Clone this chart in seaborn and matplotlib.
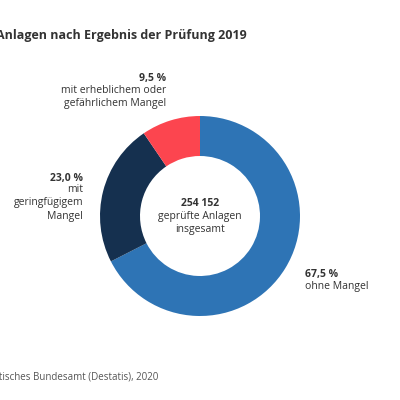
import matplotlib
matplotlib.use("Agg")
import matplotlib.pyplot as plt
import seaborn as sns

sns.set_theme(style="white")
plt.rcParams['font.family'] = ['Open Sans', 'DejaVu Sans']

categories = ["ohne Mangel", "mit geringfügigem Mangel", "mit erheblichem oder gefährlichem Mangel"]
values = [67.5, 23.0, 9.5]
colors = ["#2e74b5", "#15304f", "#fc454f"]
total_label = "254 152"

fig = plt.figure(figsize=(4, 4), dpi=100)
ax = fig.add_axes([0.25, 0.21, 0.5, 0.5])
ax.pie(values, colors=colors, startangle=90, counterclock=False,
       wedgeprops=dict(width=0.4, linewidth=0))
ax.set_xlim(-1, 1); ax.set_ylim(-1, 1); ax.set_aspect('equal')

def px(x, y):
    return x / 400, 1 - y / 400

c = "#333333"
fig.text(*px(247, 35), "Geprüfte Anlagen nach Ergebnis der Prüfung 2019", ha='right', va='center',
         fontsize=9, fontweight='bold', color=c)
fig.text(*px(158, 377), "Quelle: Statistisches Bundesamt (Destatis), 2020", ha='right', va='center',
         fontsize=7, color="#555555")

fig.text(*px(166, 79), "9,5 %", ha='right', va='center', fontsize=7.5, fontweight='bold', color=c)
fig.text(*px(166, 97), "mit erheblichem oder\ngefährlichem Mangel", ha='right', va='center',
         fontsize=7.5, color=c, linespacing=1.3)
fig.text(*px(83, 179), "23,0 %", ha='right', va='center', fontsize=7.5, fontweight='bold', color=c)
fig.text(*px(83, 203), "mit\ngeringfügigem\nMangel", ha='right', va='center',
         fontsize=7.5, color=c, linespacing=1.3)
fig.text(*px(305, 275), "67,5 %", ha='left', va='center', fontsize=7.5, fontweight='bold', color=c)
fig.text(*px(305, 287), "ohne Mangel", ha='left', va='center', fontsize=7.5, color=c)

fig.text(*px(200, 204), total_label, ha='center', va='center', fontsize=7.5, fontweight='bold', color=c)
fig.text(*px(200, 223), "geprüfte Anlagen\ninsgesamt", ha='center', va='center',
         fontsize=7.5, color=c, linespacing=1.3)

fig.savefig("out.png", dpi=100, facecolor='white')
